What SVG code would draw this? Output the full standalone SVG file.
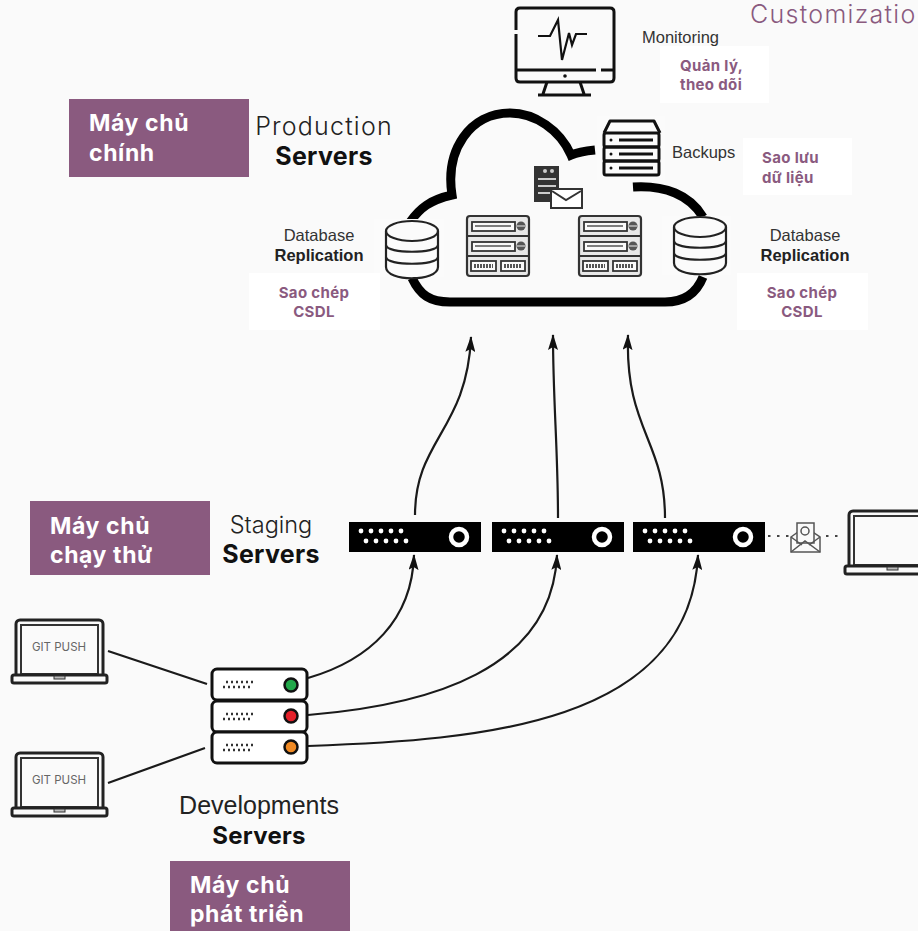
<svg xmlns="http://www.w3.org/2000/svg" width="918" height="931" viewBox="0 0 918 931">
<style>
.lab{font-family:"Inter","Open Sans",sans-serif;font-weight:700;font-size:23px;fill:#fff;letter-spacing:.6px}
.sub{font-family:"Inter","Open Sans",sans-serif;font-weight:700;font-size:15px;letter-spacing:.35px;fill:#8a5a7f}
.m{font-family:"Liberation Sans",Arial,sans-serif;font-size:16.5px;fill:#333}
.mb{font-family:"Liberation Sans",Arial,sans-serif;font-size:16.5px;font-weight:700;fill:#222}
.t{font-family:"Inter","Open Sans",sans-serif;font-size:23.5px;font-weight:300;fill:#222}
.tb{font-family:"Inter","Open Sans",sans-serif;font-size:25px;font-weight:700;fill:#111;letter-spacing:.3px}
.k{fill:none;stroke:#111;stroke-width:3;stroke-linejoin:round}
.d{fill:none;stroke:#222;stroke-width:2.200}
.c{fill:none;stroke:#1a1a1a;stroke-width:2.200}
.g{font-family:"Inter","Open Sans",sans-serif;font-size:11.500px;fill:#666}
.w{fill:#fff}
</style>
<defs>
<marker id="a" viewBox="0 0 16 10" refX="15" refY="5" markerWidth="16" markerHeight="10" markerUnits="userSpaceOnUse" orient="auto"><path d="M0 0L16 5L0 10L3 5Z" fill="#111"/></marker>
<g id="rack">
<rect x="0" y="0" width="62" height="60" rx="3" fill="#e8e8e8" stroke="#333" stroke-width="2.200"/>
<path d="M0 20H62M0 40H62" stroke="#333" stroke-width="2.200"/>
<rect x="5" y="6" width="43" height="9" fill="#fafafa" stroke="#333" stroke-width="1.800"/>
<rect x="5" y="26" width="43" height="9" fill="#fafafa" stroke="#333" stroke-width="1.800"/>
<path d="M8 10H44M8 30H44" stroke="#555" stroke-width="1.500"/>
<circle cx="54" cy="10" r="4.500" fill="#555"/><circle cx="54" cy="30" r="4.500" fill="#555"/>
<path d="M50 10H58M50 30H58" stroke="#eee" stroke-width="1"/>
<rect x="4" y="45" width="25" height="10" fill="#fafafa" stroke="#333" stroke-width="1.800"/>
<rect x="34" y="45" width="24" height="10" fill="#fafafa" stroke="#333" stroke-width="1.800"/>
<path d="M7 50H26M37 50H55" stroke="#555" stroke-width="4" stroke-dasharray="2 1"/>
</g>
<g id="db">
<path class="d" d="M0 10V46C0 61 52 61 52 46V10" fill="#fafafa"/>
<ellipse class="d" cx="26" cy="10" rx="26" ry="10" fill="#fafafa"/>
<path class="d" d="M0 24C0 33 52 33 52 24M0 36C0 45 52 45 52 36"/>
</g>
<g id="staging">
<rect x="0" y="0" width="132" height="30" fill="#000"/>
<g fill="#fff"><circle cx="12" cy="9" r="2.400"/><circle cx="22" cy="9" r="2.400"/><circle cx="32" cy="9" r="2.400"/><circle cx="42" cy="9" r="2.400"/><circle cx="52" cy="9" r="2.400"/><circle cx="17" cy="19" r="2.400"/><circle cx="27" cy="19" r="2.400"/><circle cx="37" cy="19" r="2.400"/><circle cx="47" cy="19" r="2.400"/><circle cx="57" cy="19" r="2.400"/></g>
<circle cx="110" cy="15" r="8" fill="none" stroke="#fff" stroke-width="4.500"/>
</g>
<g id="laptop">
<rect x="5" y="1" width="87" height="59" rx="4" fill="#fafafa" stroke="#222" stroke-width="3"/>
<rect x="10" y="6" width="77" height="49" fill="none" stroke="#333" stroke-width="2"/>
<rect x="1" y="56" width="95" height="8" rx="2" fill="#fafafa" stroke="#222" stroke-width="3"/>
<rect x="43" y="57" width="11" height="3" fill="#bbb" stroke="#333"/>
</g>
<g id="unit">
<rect x="0" y="0" width="95" height="31" rx="5" fill="#fff" stroke="#111" stroke-width="3"/>
<path d="M11 18H38M14 13H42" stroke="#333" stroke-width="2.500" stroke-dasharray="2 3"/>
</g>
</defs>
<rect width="918" height="931" fill="#fafafa"/>

<g id="connectors">
<path class="c" d="M415 515C415 440 467 430 471 337" marker-end="url(#a)"/>
<path class="c" d="M558 518C558 450 553 400 553 335" marker-end="url(#a)"/>
<path class="c" d="M665 518C665 440 625 430 628 335" marker-end="url(#a)"/>
<path class="c" d="M308 678C370 660 412 620 414 555" marker-end="url(#a)"/>
<path class="c" d="M308 715C430 705 552 670 557 555" marker-end="url(#a)"/>
<path class="c" d="M308 746C480 740 690 725 698 555" marker-end="url(#a)"/>
<path class="c" d="M108 651L207 684M108 783L205 748"/>
<path d="M768 536H790M826 536H842" fill="none" stroke="#444" stroke-width="2.200" stroke-dasharray="2.500 6.500"/>
</g>

<g id="cloud">
<path d="M595 150C585 151 578 152 571 155C560 130 535 113 510 113C470 113 445 150 452 195C430 200 420 208 410 222M412 278C420 295 430 302 450 302H665C685 302 697 292 703 277M633 187C665 185 690 195 703 217" fill="none" stroke="#000" stroke-width="9"/>
<use href="#rack" x="467" y="216"/>
<use href="#rack" x="579" y="216"/>
</g>

<g id="mail-server">
<rect x="534" y="166" width="25" height="36" fill="#333"/>
<path d="M538 179H556M538 186H556M538 193H553" stroke="#ccc" stroke-width="2"/>
<circle cx="545" cy="171" r="2" fill="#ccc"/><circle cx="552" cy="171" r="2" fill="#ccc"/>
<rect x="551" y="189" width="31" height="19" fill="#fff" stroke="#333" stroke-width="2"/>
<path d="M552 191L566 200L581 191" fill="none" stroke="#333" stroke-width="2"/>
</g>

<g id="monitoring">
<path class="k" d="M516 30V12Q516 8 520 8H610Q614 8 614 12V78Q614 82 610 82H520Q516 82 516 78V34"/>
<path class="k" d="M517 70H596M601 70H613"/>
<circle cx="565" cy="76" r="1.800" fill="#111"/>
<path class="k" d="M547 82L543 94M580 82L584 94M538 95H591"/>
<path d="M538 36H550L558 20L562 60L569 33L572 45L576 34H587" fill="none" stroke="#111" stroke-width="2.200"/>
<text class="m" x="642" y="43">Monitoring</text>
<rect x="660" y="46" width="109" height="57" class="w"/>
<text class="sub" x="680" y="71">Quản lý,</text>
<text class="sub" x="680" y="90">theo dõi</text>
</g>

<g id="backups">
<rect x="597" y="116" width="68" height="64" fill="#fbfbfb"/>
<path class="k" d="M604 133L610 121H654L660 133"/>
<rect class="k" x="604" y="133" width="55" height="14" rx="2" fill="#fff"/>
<rect class="k" x="604" y="147" width="55" height="14" rx="2" fill="#fff"/>
<rect class="k" x="604" y="161" width="55" height="14" rx="2" fill="#fff"/>
<path d="M619 140H653M619 154H653M619 168H653" stroke="#111" stroke-width="3"/>
<circle cx="611" cy="140" r="1.500" fill="#111"/><circle cx="611" cy="154" r="1.500" fill="#111"/><circle cx="611" cy="168" r="1.500" fill="#111"/>
<text class="m" x="672" y="158">Backups</text>
<rect x="743" y="138" width="109" height="57" class="w"/>
<text class="sub" x="762" y="163">Sao lưu</text>
<text class="sub" x="762" y="183">dữ liệu</text>
</g>

<g id="db-left">
<rect x="374" y="219" width="70" height="58" fill="#fbfbfb"/>
<use href="#db" x="386" y="221"/>
<text class="m" x="319" y="241" text-anchor="middle">Database</text>
<text class="mb" x="319" y="261" text-anchor="middle">Replication</text>
<rect x="249" y="273" width="131" height="57" class="w"/>
<text class="sub" x="314" y="298" text-anchor="middle">Sao chép</text>
<text class="sub" x="314" y="317" text-anchor="middle">CSDL</text>
</g>

<g id="db-right">
<rect x="662" y="216" width="69" height="59" fill="#fbfbfb"/>
<use href="#db" x="674" y="217"/>
<text class="m" x="805" y="241" text-anchor="middle">Database</text>
<text class="mb" x="805" y="261" text-anchor="middle">Replication</text>
<rect x="737" y="273" width="131" height="57" class="w"/>
<text class="sub" x="802" y="298" text-anchor="middle">Sao chép</text>
<text class="sub" x="802" y="317" text-anchor="middle">CSDL</text>
</g>

<g id="production-label">
<text class="t" x="324" y="135" text-anchor="middle" style="font-size:25px;letter-spacing:1.200px">Production</text>
<text class="tb" x="324" y="165" text-anchor="middle">Servers</text>
<rect x="69" y="99" width="180" height="78" fill="#8a5a7f"/>
<text class="lab" x="89" y="131">Máy chủ</text>
<text class="lab" x="89" y="161">chính</text>
</g>

<g id="staging-label">
<text class="t" x="271" y="533" text-anchor="middle">Staging</text>
<text class="tb" x="271" y="563" text-anchor="middle">Servers</text>
<rect x="30" y="501" width="180" height="74" fill="#8a5a7f"/>
<text class="lab" x="50" y="534">Máy chủ</text>
<text class="lab" x="50" y="563">chạy thử</text>
</g>

<g id="staging-1"><use href="#staging" x="349" y="522"/></g>
<g id="staging-2"><use href="#staging" x="492" y="522"/></g>
<g id="staging-3"><use href="#staging" x="633" y="522"/></g>

<g id="mail">
<path d="M791 537L805 527L820 537V552H791Z" fill="#fafafa" stroke="#555" stroke-width="1.500"/>
<rect x="797" y="523" width="17" height="20" fill="#fafafa" stroke="#555" stroke-width="1.500"/>
<circle cx="805" cy="531" r="4" fill="none" stroke="#555" stroke-width="1.500"/>
<path d="M791 552L805 541L820 552M791 537L802 545M820 537L809 545" fill="none" stroke="#555" stroke-width="1.500"/>
</g>

<g id="laptop-right"><use href="#laptop" x="844" y="510"/></g>

<g id="laptop-1">
<use href="#laptop" x="11" y="619"/>
<text class="g" x="59" y="651" text-anchor="middle">GIT PUSH</text>
</g>
<g id="laptop-2">
<use href="#laptop" x="11" y="752"/>
<text class="g" x="59" y="784" text-anchor="middle">GIT PUSH</text>
</g>

<g id="dev-servers">
<use href="#unit" x="212" y="669"/>
<use href="#unit" x="212" y="701"/>
<use href="#unit" x="212" y="732"/>
<circle cx="291" cy="685" r="6.500" fill="#22a84a" stroke="#111" stroke-width="2.500"/>
<circle cx="291" cy="716" r="6.500" fill="#e3202a" stroke="#111" stroke-width="2.500"/>
<circle cx="291" cy="747" r="6.500" fill="#f08a24" stroke="#111" stroke-width="2.500"/>
</g>

<g id="dev-label">
<text x="259" y="814" text-anchor="middle" style="font-family:'Liberation Sans',Arial,sans-serif;font-size:25px;fill:#222">Developments</text>
<text class="tb" x="259" y="844" text-anchor="middle" style="font-size:24px">Servers</text>
<rect x="170" y="861" width="180" height="70" fill="#8a5a7f"/>
<text class="lab" x="190" y="893">Máy chủ</text>
<text class="lab" x="190" y="922">phát triển</text>
</g>

<text id="title" x="750" y="23" style="font-family:'Inter','Open Sans',sans-serif;font-weight:300;font-size:25px;fill:#8a5a7f;letter-spacing:1.300px">Customizatio</text>
</svg>
